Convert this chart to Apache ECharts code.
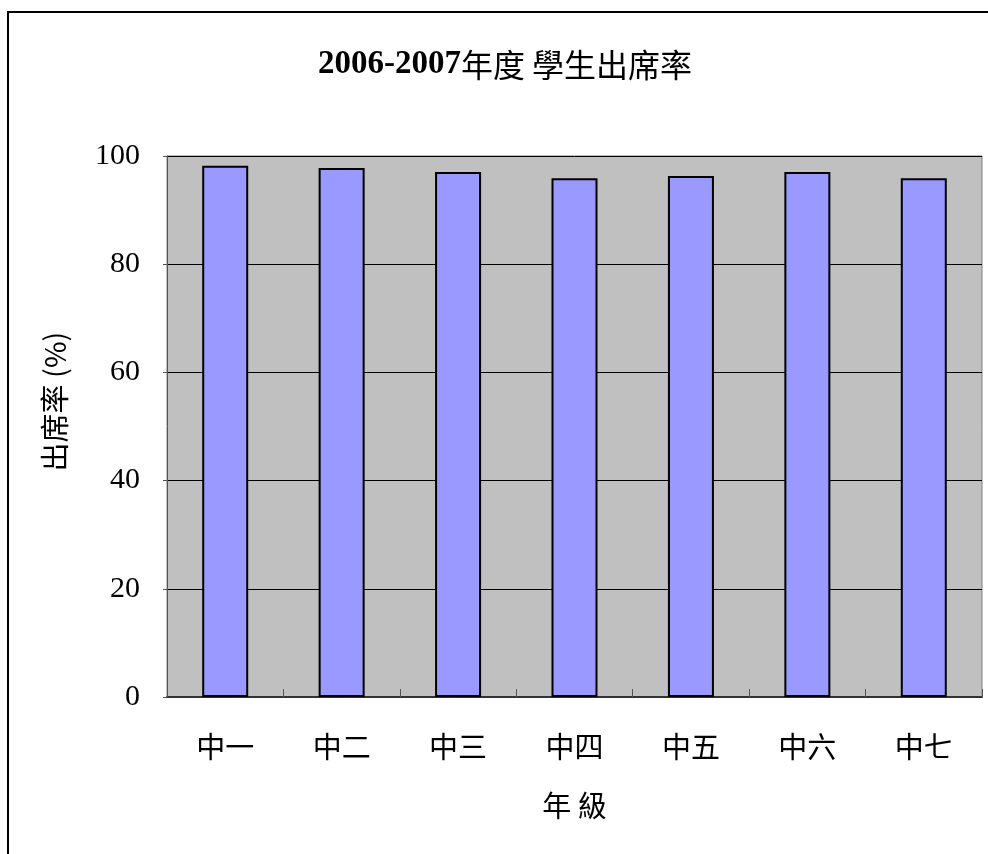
<!DOCTYPE html>
<html>
<head>
<meta charset="utf-8">
<script src="https://cdn.jsdelivr.net/npm/echarts@6/dist/echarts.min.js"></script>
<style>
  html, body { margin: 0; padding: 0; background: #fff; }
  #chart { width: 988px; height: 854px; }
</style>
</head>
<body>
<div id="chart"></div>
<script>
var categories = ['中一', '中二', '中三', '中四', '中五', '中六', '中七'];
var attendance = [98.2, 97.8, 97.05, 95.9, 96.3, 97.05, 95.9];
var yTicks = [0, 20, 40, 60, 80, 100];

var myChart = echarts.init(document.getElementById('chart'));

var option = {
  backgroundColor: '#fff',
  animation: false,
  title: {
    text: '{b|2006-2007}{n|年度 學生出席率}',
    left: 500,
    top: 43,
    textAlign: 'center',
    textStyle: {
      rich: {
        b: {
          fontFamily: '"Liberation Serif", serif',
          fontWeight: 'bold',
          fontSize: 33,
          color: '#000'
        },
        n: {
          fontFamily: '"Noto Sans CJK TC", sans-serif',
          fontWeight: 'normal',
          fontSize: 32,
          color: '#000'
        }
      }
    }
  },
  graphic: [
    {
      type: 'rect',
      shape: { x: 8, y: 12, width: 1000, height: 900 },
      style: { fill: 'none', stroke: '#000', lineWidth: 2 },
      silent: true
    }
  ],
  grid: {
    left: 167,
    top: 156,
    right: 6,
    bottom: 157,
    show: true,
    backgroundColor: '#c0c0c0',
    borderColor: '#808080',
    borderWidth: 1
  },
  xAxis: {
    type: 'category',
    data: categories,
    name: '年 級',
    nameLocation: 'middle',
    nameGap: 94,
    nameTextStyle: {
      fontFamily: '"Noto Sans CJK TC", sans-serif',
      fontSize: 29,
      color: '#000'
    },
    axisLine: { lineStyle: { color: '#333', width: 2 } },
    axisTick: { show: true, inside: true, length: 8, lineStyle: { color: '#555' } },
    axisLabel: {
      margin: 35,
      fontFamily: '"Noto Sans CJK TC", serif',
      fontSize: 29,
      color: '#000'
    }
  },
  yAxis: {
    type: 'value',
    min: 0,
    max: 100,
    interval: 20,
    name: '出席率 (%)',
    nameLocation: 'middle',
    nameGap: 98,
    nameRotate: 90,
    nameTextStyle: {
      fontFamily: '"Noto Sans CJK TC", sans-serif',
      fontSize: 29,
      color: '#000',
      padding: [0, 0, 0, 50]
    },
    axisLine: { show: true, lineStyle: { color: '#555' } },
    axisTick: { show: true, length: 4, lineStyle: { color: '#555' } },
    axisLabel: {
      margin: 27,
      fontFamily: '"Liberation Serif", serif',
      fontSize: 30,
      color: '#000',
      formatter: function (v) {
        return yTicks.indexOf(v) >= 0 ? String(v) : '';
      }
    },
    splitLine: { show: true, lineStyle: { color: '#000', width: 1 } }
  },
  series: [
    {
      name: '出席率',
      type: 'bar',
      data: attendance,
      barWidth: 46,
      itemStyle: {
        color: '#9999ff',
        borderColor: '#000',
        borderWidth: 2
      }
    }
  ]
};

myChart.setOption(option);
</script>
</body>
</html>
